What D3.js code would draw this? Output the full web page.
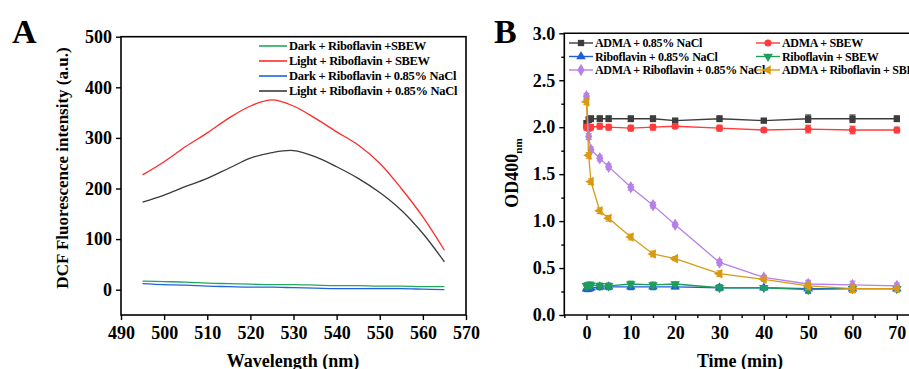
<!DOCTYPE html>
<html>
<head>
<meta charset="utf-8">
<script src="https://cdn.jsdelivr.net/npm/d3@7"></script>
<style>
  body { margin: 0; background: #fff; }
  svg { display: block; font-family: "Liberation Serif", "Times New Roman", serif; font-weight: bold; }
</style>
</head>
<body>
<svg id="chart" width="909" height="369"></svg>
<script>
// ---- panel A data ----
const wavelengths = [495, 500, 505, 510, 515, 520, 525, 530, 535, 540, 545, 550, 555, 560, 565];
const darkRiboSBEW  = [17, 16, 15, 13, 12, 11, 10, 10, 9, 8, 8, 7, 7, 6, 6];
const lightRiboSBEW = [227, 253, 283, 310, 339, 363, 375, 363, 339, 312, 286, 250, 200, 144, 78];
const darkRiboNaCl  = [12, 10, 9, 7, 6, 5, 5, 4, 3, 2, 2, 2, 2, 1, 0];
const lightRiboNaCl = [173, 187, 204, 220, 240, 260, 271, 275, 263, 243, 220, 192, 157, 111, 55];
const namesA = ['Dark + Riboflavin +SBEW', 'Light + Riboflavin + SBEW',
                'Dark + Riboflavin + 0.85% NaCl', 'Light + Riboflavin + 0.85% NaCl'];
const xTicksA = [490, 500, 510, 520, 530, 540, 550, 560, 570];
const yTicksA = [0, 100, 200, 300, 400, 500];

// ---- panel B data ----
const timePts = [0, 0.5, 1, 3, 5, 10, 15, 20, 30, 40, 50, 60, 70];
const admaNaCl     = [2.04, 2.08, 2.09, 2.09, 2.09, 2.09, 2.09, 2.07, 2.09, 2.07, 2.09, 2.09, 2.09];
const admaSBEW     = [2.00, 1.99, 2.00, 2.01, 2.00, 1.99, 2.00, 2.01, 1.99, 1.97, 1.98, 1.97, 1.97];
const riboNaCl     = [0.28, 0.28, 0.29, 0.30, 0.30, 0.30, 0.30, 0.30, 0.29, 0.29, 0.28, 0.28, 0.28];
const riboSBEW     = [0.31, 0.32, 0.32, 0.31, 0.31, 0.33, 0.32, 0.33, 0.29, 0.29, 0.27, 0.28, 0.28];
const admaRiboNaCl = [2.33, 1.90, 1.76, 1.67, 1.58, 1.36, 1.17, 0.96, 0.56, 0.40, 0.33, 0.32, 0.31];
const admaRiboSBEW = [2.27, 1.70, 1.42, 1.11, 1.03, 0.83, 0.65, 0.60, 0.44, 0.38, 0.31, 0.28, 0.28];
const errB = [0.03, 0.03, 0.03, 0.03, 0.03, 0.03, 0.03, 0.02, 0.03, 0.02, 0.04, 0.04, 0.03];
const namesB = ['ADMA + 0.85% NaCl', 'ADMA + SBEW', 'Riboflavin + 0.85% NaCl',
                'Riboflavin + SBEW', 'ADMA + Riboflavin + 0.85% NaCl', 'ADMA + Riboflavin + SBEW'];
const xTicksB = [0, 10, 20, 30, 40, 50, 60, 70];
const yTicksB = [0.0, 0.5, 1.0, 1.5, 2.0, 2.5, 3.0];

const svg = d3.select('#chart');

// ================= Panel A =================
const xA = d3.scaleLinear().domain([490, 570]).range([121, 466]);
const yA = d3.scaleLinear().domain([-50, 500]).range([315, 36.7]);

const colorsA = ['#20a85a', '#ff2a2a', '#1f63e0', '#3a3a3a'];
const seriesA = [darkRiboSBEW, lightRiboSBEW, darkRiboNaCl, lightRiboNaCl];

const lineA = d3.line()
  .x((d, i) => xA(wavelengths[i]))
  .y(d => yA(d))
  .curve(d3.curveCatmullRom);

seriesA.forEach((s, k) => {
  svg.append('path')
    .datum(s)
    .attr('d', lineA)
    .attr('fill', 'none')
    .attr('stroke', colorsA[k])
    .attr('stroke-width', 1.3);
});

// frame
svg.append('rect')
  .attr('x', xA.range()[0]).attr('y', yA.range()[1])
  .attr('width', xA.range()[1] - xA.range()[0])
  .attr('height', yA.range()[0] - yA.range()[1])
  .attr('fill', 'none').attr('stroke', '#000').attr('stroke-width', 1.6);

const axA_x = svg.append('g')
  .attr('transform', `translate(0,${yA.range()[0]})`)
  .call(d3.axisBottom(xA).tickValues(xTicksA).tickSize(5).tickPadding(6));
const axA_y = svg.append('g')
  .attr('transform', `translate(${xA.range()[0]},0)`)
  .call(d3.axisLeft(yA).tickValues(yTicksA).tickSize(5).tickPadding(4));

[axA_x, axA_y].forEach(g => {
  g.select('.domain').remove();
  g.selectAll('line').attr('stroke', '#000').attr('stroke-width', 1.4);
  g.selectAll('text').attr('fill', '#000').attr('font-size', 18)
    .attr('font-family', '"Liberation Serif", serif').attr('font-weight', 'bold');
});

// legend A
const legA = svg.append('g');
namesA.forEach((n, k) => {
  const y = 46 + k * 15;
  legA.append('line').attr('x1', 259).attr('x2', 287).attr('y1', y).attr('y2', y)
    .attr('stroke', colorsA[k]).attr('stroke-width', 1.6);
  legA.append('text').attr('x', 289).attr('y', y + 4).attr('font-size', 12.5)
    .attr('letter-spacing', -0.3).text(n);
});

svg.append('text').attr('x', 12).attr('y', 43).attr('font-size', 34).text('A');
svg.append('text')
  .attr('transform', 'translate(68,168) rotate(-90)')
  .attr('text-anchor', 'middle').attr('font-size', 17)
  .text('DCF Fluorescence intensity (a.u.)');
svg.append('text').attr('x', 293).attr('y', 367)
  .attr('text-anchor', 'middle').attr('font-size', 18).text('Wavelength (nm)');

// ================= Panel B =================
const xB = d3.scaleLinear().domain([-5, 75]).range([564.3, 919]);
const yB = d3.scaleLinear().domain([0, 3]).range([315, 33.3]);

const colorsB = ['#3c3c3c', '#ff3b3b', '#1f5fd6', '#1e9e5a', '#b681e6', '#d89a12'];
const seriesB = [admaNaCl, admaSBEW, riboNaCl, riboSBEW, admaRiboNaCl, admaRiboSBEW];
const symbolsB = [
  d3.symbol().type(d3.symbolSquare).size(40),
  d3.symbol().type(d3.symbolCircle).size(40),
  d3.symbol().type(d3.symbolTriangle).size(40),
  d3.symbol().type(d3.symbolTriangle).size(40),
  d3.symbol().type(d3.symbolDiamond).size(45),
  d3.symbol().type(d3.symbolTriangle).size(40)
];
const rotB = [0, 0, 0, 180, 0, -90];

const clipB = svg.append('clipPath').attr('id', 'clipB');
clipB.append('rect').attr('x', 564).attr('y', 30).attr('width', 345).attr('height', 290);

const lineB = d3.line()
  .x((d, i) => xB(timePts[i]))
  .y(d => yB(d));

const plotB = svg.append('g').attr('clip-path', 'url(#clipB)');
seriesB.forEach((s, k) => {
  const g = plotB.append('g');
  g.append('path').datum(s).attr('d', lineB)
    .attr('fill', 'none').attr('stroke', colorsB[k]).attr('stroke-width', 1.3);
  s.forEach((v, i) => {
    const cx = xB(timePts[i]);
    const e = errB[i];
    g.append('line').attr('x1', cx).attr('x2', cx)
      .attr('y1', yB(v + e)).attr('y2', yB(v - e))
      .attr('stroke', colorsB[k]).attr('stroke-width', 1.2);
    [v + e, v - e].forEach(w => {
      g.append('line').attr('x1', cx - 3).attr('x2', cx + 3)
        .attr('y1', yB(w)).attr('y2', yB(w))
        .attr('stroke', colorsB[k]).attr('stroke-width', 1.2);
    });
    g.append('path').attr('d', symbolsB[k]())
      .attr('transform', `translate(${cx},${yB(v)}) rotate(${rotB[k]})`)
      .attr('fill', colorsB[k]);
  });
});

// frame B
svg.append('path')
  .attr('d', `M909,${yB.range()[1]}H${xB.range()[0]}V${yB.range()[0]}H909`)
  .attr('fill', 'none').attr('stroke', '#000').attr('stroke-width', 1.6);

const axB_x = svg.append('g')
  .attr('transform', `translate(0,${yB.range()[0]})`)
  .call(d3.axisBottom(xB).tickValues(xTicksB).tickSize(5).tickPadding(6).tickFormat(d3.format('d')));
const axB_y = svg.append('g')
  .attr('transform', `translate(${xB.range()[0]},0)`)
  .call(d3.axisLeft(yB).tickValues(yTicksB).tickSize(5).tickPadding(4).tickFormat(d3.format('.1f')));
// minor ticks
const axB_xm = svg.append('g')
  .attr('transform', `translate(0,${yB.range()[0]})`)
  .call(d3.axisBottom(xB).tickValues(d3.range(-5, 75, 10)).tickSize(3).tickFormat(''));
const axB_ym = svg.append('g')
  .attr('transform', `translate(${xB.range()[0]},0)`)
  .call(d3.axisLeft(yB).tickValues(d3.range(0.25, 3, 0.5)).tickSize(3).tickFormat(''));

[axB_x, axB_y, axB_xm, axB_ym].forEach(g => {
  g.select('.domain').remove();
  g.selectAll('line').attr('stroke', '#000').attr('stroke-width', 1.4);
  g.selectAll('text').attr('fill', '#000').attr('font-size', 18)
    .attr('font-family', '"Liberation Serif", serif').attr('font-weight', 'bold');
});

// legend B
const legB = svg.append('g');
namesB.forEach((n, k) => {
  const col = k % 2, row = Math.floor(k / 2);
  const x0 = col === 0 ? 569 : 756;
  const y = 43 + row * 13.5;
  legB.append('line').attr('x1', x0).attr('x2', x0 + 24).attr('y1', y).attr('y2', y)
    .attr('stroke', colorsB[k]).attr('stroke-width', 1.4);
  legB.append('path').attr('d', symbolsB[k]())
    .attr('transform', `translate(${x0 + 12},${y}) rotate(${rotB[k]})`)
    .attr('fill', colorsB[k]);
  legB.append('text').attr('x', x0 + 26).attr('y', y + 4).attr('font-size', 12)
    .attr('letter-spacing', -0.3).text(n);
});

svg.append('text').attr('x', 494).attr('y', 43).attr('font-size', 34).text('B');
svg.append('text')
  .attr('transform', 'translate(518,173) rotate(-90)')
  .attr('text-anchor', 'middle').attr('font-size', 18)
  .call(t => {
    t.append('tspan').text('OD400');
    t.append('tspan').attr('font-size', 11).attr('dy', 4).text('nm');
  });
svg.append('text').attr('x', 740).attr('y', 367)
  .attr('text-anchor', 'middle').attr('font-size', 18).text('Time (min)');
</script>
</body>
</html>
